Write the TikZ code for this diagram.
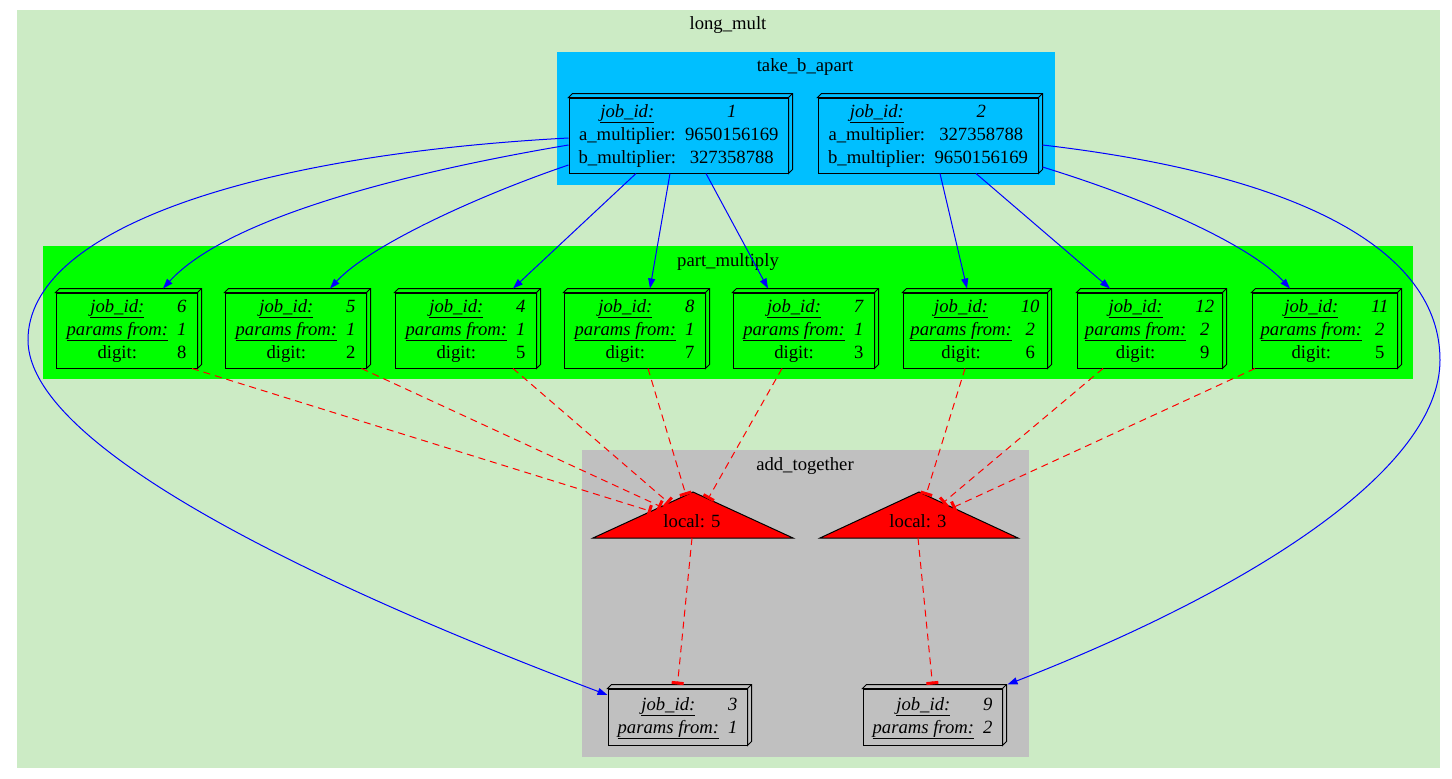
\documentclass[tikz,border=0pt]{standalone}
\usepackage{fontspec}
\setmainfont{Liberation Serif}
\usetikzlibrary{calc}
\usetikzlibrary{arrows.meta}

\definecolor{multgreen}{HTML}{CCEBC5}
\definecolor{skyblue}{HTML}{00BFFF}
\definecolor{partgreen}{HTML}{00FF00}
\definecolor{addgray}{HTML}{C0C0C0}
\definecolor{localred}{HTML}{FF0000}
\definecolor{edgeblue}{HTML}{0000FF}
\setlength{\tabcolsep}{4.5pt}

\begin{document}
\begin{tikzpicture}[x=1pt, y=-1pt,
    every node/.style={font=\fontsize{18.67}{23}\selectfont},
    jobbox/.style={draw, line width=1pt, inner sep=0pt, minimum height=75},
    face/.style={draw, line width=1pt},
    spawn/.style={edgeblue, line width=1pt, -{Triangle[length=10pt,width=7pt]}},
    feed/.style={localred, line width=1pt, dash pattern=on 7pt off 5pt, -{Rectangle[length=3pt,width=12pt]}},
    tri/.style={fill=localred, draw=black, line width=1pt}]
    \useasboundingbox (0,0) rectangle (1452,779);

    % clusters
    \fill[multgreen] (17,10) rectangle (1440,768);
    \fill[skyblue] (557,52) rectangle (1055,185);
    \fill[partgreen] (43,246) rectangle (1413,379);
    \fill[addgray] (582,450) rectangle (1029,757);
    \node (multlabel) at (728,25) {long\_mult};
    \node (takelabel) at (805,67) {take\_b\_apart};
    \node (partlabel) at (728,262) {part\_multiply};
    \node (addlabel) at (805,466) {add\_together};

    % jobs
    \node[jobbox, fill=skyblue, minimum width=219] (J1) at (678.5,135.5) {\begin{tabular}{cc}
        \underline{\textit{job\_id:}} & \textit{1}\\
        a\_multiplier: & 9650156169\\
        b\_multiplier: & 327358788
      \end{tabular}};
    \node[jobbox, fill=skyblue, minimum width=220] (J2) at (928,135.5) {\begin{tabular}{cc}
        \underline{\textit{job\_id:}} & \textit{2}\\
        a\_multiplier: & 327358788\\
        b\_multiplier: & 9650156169
      \end{tabular}};
    \foreach \n/\x/\w/\id/\src/\dig in {P6/126.5/141/6/1/8, P5/295.5/141/5/1/2,
        P4/465.5/141/4/1/5, P8/634.5/141/8/1/7, P7/803.5/141/7/1/3,
        P10/975/144/10/2/6, P12/1149.5/145/12/2/9, P11/1324.5/145/11/2/5}
      \node[jobbox, fill=partgreen, minimum width=\w] (\n) at (\x,330.5) {\begin{tabular}{cc}
          \underline{\textit{job\_id:}} & \textit{\id}\\
          \underline{\textit{params from:}} & \textit{\src}\\
          digit: & \dig
        \end{tabular}};
    \node[jobbox, fill=addgray, minimum width=139, minimum height=56] (J3) at (677.5,717) {\begin{tabular}{cc}
        \underline{\textit{job\_id:}} & \textit{3}\\
        \underline{\textit{params from:}} & \textit{1}
      \end{tabular}};
    \node[jobbox, fill=addgray, minimum width=139, minimum height=56] (J9) at (932.5,717) {\begin{tabular}{cc}
        \underline{\textit{job\_id:}} & \textit{9}\\
        \underline{\textit{params from:}} & \textit{2}
      \end{tabular}};

    % 3d faces
    \foreach \n/\c in {J1/skyblue, J2/skyblue, P6/partgreen, P5/partgreen, P4/partgreen,
        P8/partgreen, P7/partgreen, P10/partgreen, P12/partgreen, P11/partgreen,
        J3/addgray, J9/addgray} {
      \filldraw[face, fill=\c] (\n.north west) -- ++(4,-4) -| ([xshift=4,yshift=4]\n.south east)
        -- (\n.south east) -- (\n.north east) -- cycle;
      \draw[face] (\n.north east) -- ++(4,-4);
    }

    % local triangles
    \coordinate (L5a) at (693,492);
    \coordinate (L5l) at (593,538);
    \coordinate (L5r) at (793,538);
    \coordinate (L5b) at (692,538);
    \coordinate (L3a) at (919,492);
    \coordinate (L3l) at (820,538);
    \coordinate (L3r) at (1018,538);
    \coordinate (L3b) at (918,538);
    \filldraw[tri] (L5a) -- (L5l) -- (L5r) -- cycle;
    \filldraw[tri] (L3a) -- (L3l) -- (L3r) -- cycle;
    \node (L5) at (692,521) {local: 5};
    \node (L3) at (918,521) {local: 3};

    \coordinate (t6) at ($(L5a)!0.42!(L5l)$);
    \coordinate (t5) at ($(L5a)!0.32!(L5l)$);
    \coordinate (t4) at ($(L5a)!0.24!(L5l)$);
    \coordinate (t8) at ($(L5a)!0.07!(L5l)$);
    \coordinate (t7) at ($(L5a)!0.15!(L5r)$);
    \coordinate (t10) at ($(L3a)!0.07!(L3r)$);
    \coordinate (t12) at ($(L3a)!0.24!(L3r)$);
    \coordinate (t11) at ($(L3a)!0.34!(L3r)$);

    % digits into the sums
    \foreach \n/\dx/\e in {P6/65.5/t6, P5/66/t5, P4/47.5/t4, P8/13.5/t8, P7/-21.5/t7,
        P10/-10/t10, P12/-46.5/t12, P11/-69.5/t11}
      \draw[feed] ([xshift=\dx]\n.south) -- (\e);
    \draw[feed] (L5b) -- ([yshift=4]J3.north);
    \draw[feed] (L3b) -- ([yshift=4]J9.north);

    % spawned jobs
    \draw[spawn] ([yshift=-2.5]J1.west) .. controls (250,155) and (28,230) .. (28,340)
      .. controls (28,450) and (330,590) .. ([yshift=22]J3.west);
    \draw[spawn] ([xshift=4,yshift=-9.5]J2.east) .. controls (1300,175) and (1440,250) .. (1440,360)
      .. controls (1440,470) and (1250,590) .. ([xshift=5,yshift=4]J9.north east);
    \draw[spawn] ([yshift=-9.5]J1.west) .. controls (420,170) and (230,215) .. ([xshift=36.5,yshift=4]P6.north);
    \draw[spawn] ([yshift=-29.5]J1.west) .. controls (480,195) and (370,245) .. ([xshift=34.5,yshift=4]P5.north);
    \draw[spawn] ([xshift=-42.5]J1.south) -- ([xshift=47.5,yshift=4]P4.north);
    \draw[spawn] ([xshift=-8.5]J1.south) -- ([xshift=15.5,yshift=4]P8.north);
    \draw[spawn] ([xshift=27.5]J1.south) -- ([xshift=-35.5,yshift=4]P7.north);
    \draw[spawn] ([xshift=12]J2.south) -- ([xshift=-8,yshift=4]P10.north);
    \draw[spawn] ([xshift=48]J2.south) -- ([xshift=-39.5,yshift=4]P12.north);
    \draw[spawn] ([xshift=4,yshift=-31.5]J2.east) .. controls (1150,200) and (1250,245) .. ([xshift=-34.5,yshift=4]P11.north);
\end{tikzpicture}
\end{document}
